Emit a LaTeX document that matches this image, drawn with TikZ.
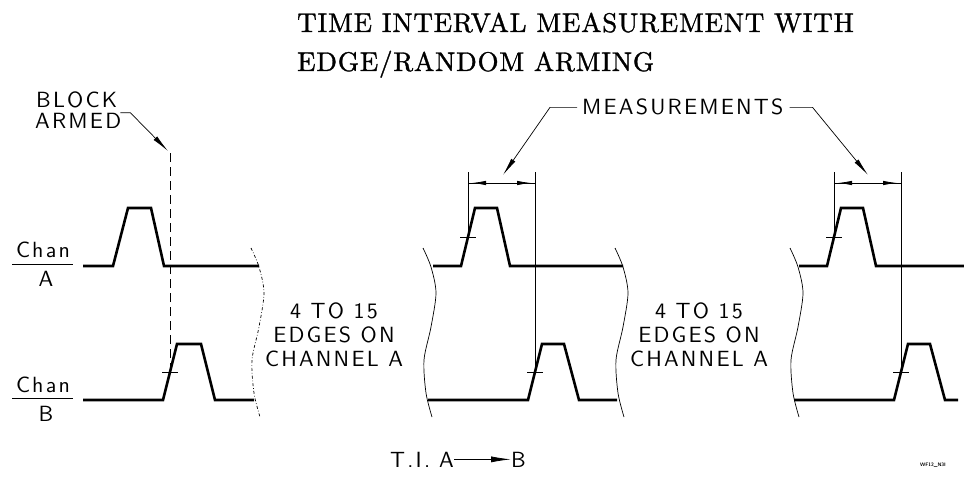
\documentclass[tikz,border=0pt]{standalone}
\usepackage{fontspec}
\usepackage{tikz}
\usetikzlibrary{arrows.meta,positioning}
\newfontfamily\leroy{lmsans10-regular}[Extension=.otf,LetterSpace=10]
\newfontfamily\ttlfont{lmroman10-regular}[Extension=.otf,LetterSpace=3,FakeBold=1.2]
\tikzset{
  wave/.style={line width=2.6pt},
  thinline/.style={line width=0.8pt},
  brk/.style={line width=0.7pt},
  armline/.style={line width=0.9pt,dash pattern=on 9pt off 5pt},
  leader/.style={line width=0.7pt,-{Latex[length=18pt,width=5pt]}},
  dimarrow/.style={line width=0.8pt,-{Latex[length=14pt,width=4.5pt]},shorten >=4pt},
  lbl/.style={font=\leroy\fontsize{22}{24}\selectfont,inner sep=0pt},
  ttl/.style={font=\ttlfont\fontsize{27}{30}\selectfont,inner sep=0pt,anchor=base west}
}

\begin{document}
\begin{tikzpicture}[x=1pt,y=-1pt]
\useasboundingbox (0,0) rectangle (964,481);
\node[ttl] (title1) at (297,32) {TIME INTERVAL MEASUREMENT WITH};
\node[ttl] (title2) at (297,71) {EDGE/RANDOM ARMING};

\node[lbl,anchor=base] (chanA) at (43,258) {Chan};
\node[lbl,anchor=base] (nameA) at (46,287) {A};
\draw[thinline] (12,264) -- (73,264);
\node[lbl,anchor=base] (chanB) at (43,392) {Chan};
\node[lbl,anchor=base] (nameB) at (46,421) {B};
\draw[thinline] (12,398) -- (73,398);

\foreach \x/\sty in {251/dash dot,423/solid,615/solid,790/solid}
 {\draw[brk,\sty,shift={(\x,0)}] plot[smooth] coordinates {(0,248) (8,267) (13,293) (8,327) (1,360) (3,393) (9,417)};}

\draw[wave] (83,266) -- (113,266) -- ++(15,-58) -- ++(23,0) -- ++(13,58) -- (259,266);
\draw[wave] (83,400) -- (163,400) -- ++(14,-56) -- ++(24,0) -- ++(14,56) -- (254,400);
\coordinate (b1) at (170,372);
\draw[thinline] (b1) ++(-8,0) -- ++(16,0);
\draw[armline] (b1) -- ++(0,-222);

\node[lbl,anchor=base west] (block) at (36,108) {BLOCK};
\node[lbl,anchor=base west] (armed) at (35,129) {ARMED};
\coordinate (armtip) at (168,151);
\draw[leader] (block.south east) ++(3,4) -- ++(10,0) -- (armtip);

\node[lbl,anchor=north,align=center] (edges1) at (334,303) {4 TO 15\\EDGES ON\\CHANNEL A};
\node[lbl,anchor=north,align=center] (edges2) at (699,303) {4 TO 15\\EDGES ON\\CHANNEL A};

\foreach \s/\e in {0/623,366/964}
 {\draw[wave] (433+\s,266) -- (461+\s,266) -- ++(14,-58) -- ++(22,0) -- ++(13,58) -- (\e,266);
  \draw[wave] (428+\s,400) -- (528+\s,400) -- ++(14,-56) -- ++(22,0) -- ++(15,56) -- (\e-6,400);
  \coordinate (ea\s) at (468+\s,237);
  \coordinate (eb\s) at (535+\s,372);
  \draw[thinline] (ea\s) ++(-8,0) -- ++(16,0) (eb\s) ++(-8,0) -- ++(16,0);
  \draw[thinline] (ea\s) -- ++(0,-65) (eb\s) -- ++(0,-200);
  \coordinate (dm\s) at (501.5+\s,183);
  \draw[thinline] (468+\s,183) -- (535+\s,183);
  \draw[dimarrow] (dm\s) -- (468+\s,183);
  \draw[dimarrow] (dm\s) -- (535+\s,183);}

\node[lbl,anchor=base west] (meas) at (582,115) {MEASUREMENTS};
\coordinate (m0) at (503,175);
\coordinate (m366) at (868,175);
\draw[leader] (meas.west) ++(-5,0) -- ++(-27,0) -- (m0);
\draw[leader] (meas.east) ++(6,0) -- ++(23,0) -- (m366);

\node[lbl,anchor=base west] (ti) at (390,467) {T.I.};
\node[lbl,anchor=base west] (tiA) at (439,467) {A};
\node[lbl,anchor=base west] (tiB) at (511,467) {B};
\draw[line width=0.8pt,-{Latex[length=20pt,width=6pt]}] (tiA) -- (tiB);

\node[font=\fontsize{5}{6}\selectfont\bfseries\sffamily,inner sep=0pt] (tag) at (933,465) {WF12\_N3I};
\end{tikzpicture}
\end{document}
